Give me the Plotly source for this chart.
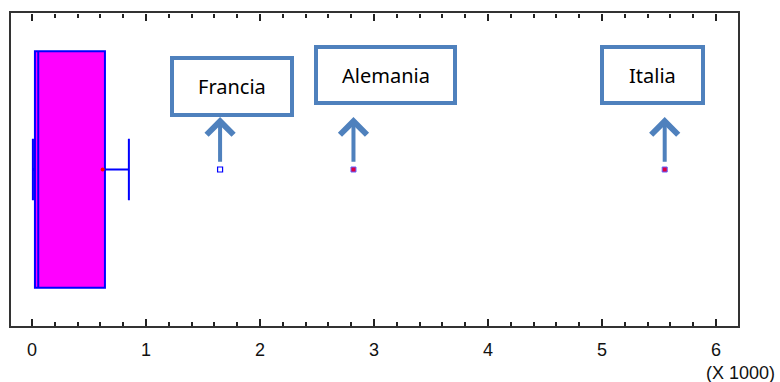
import plotly.graph_objects as go

# values in thousands (axis shows "X 1000")
q1 = [0.026]
median = [0.055]
q3 = [0.64]
lower_fence = [0.008]
upper_fence = [0.85]
mean_val = [0.62]

outlier_names = ["Francia", "Alemania", "Italia"]
outlier_values = [1.65, 2.82, 5.55]
outlier_far = [False, True, True]

tick_start = 0
tick_step = 1
minor_step = 0.2

fig = go.Figure()

fig.add_trace(go.Box(
    orientation="h",
    y=[0],
    q1=q1, median=median, q3=q3,
    lowerfence=lower_fence, upperfence=upper_fence,
    fillcolor="#FF00FF",
    line=dict(color="#0000FF", width=2),
    width=1.51,
    whiskerwidth=0.26,
    boxpoints=False,
    hoverinfo="skip",
    showlegend=False,
))

# mean marker
fig.add_trace(go.Scatter(
    x=mean_val, y=[0], mode="markers",
    marker=dict(color="#FF0000", size=4, symbol="circle"),
    showlegend=False, hoverinfo="skip",
))

# outliers
near_x = [v for v, f in zip(outlier_values, outlier_far) if not f]
far_x = [v for v, f in zip(outlier_values, outlier_far) if f]
fig.add_trace(go.Scatter(
    x=near_x, y=[0] * len(near_x), mode="markers",
    marker=dict(color="white", size=5, symbol="square",
                line=dict(color="#0000FF", width=1.2)),
    showlegend=False, hoverinfo="skip",
))
fig.add_trace(go.Scatter(
    x=far_x, y=[0] * len(far_x), mode="markers",
    marker=dict(color="#E00040", size=5, symbol="square",
                line=dict(color="#6060FF", width=1)),
    showlegend=False, hoverinfo="skip",
))

# transparent traces carrying the extra tick axes (top edge and bottom minor ticks)
for ax in ["x2", "x3"]:
    fig.add_trace(go.Scatter(
        x=outlier_values, y=[0] * len(outlier_values), xaxis=ax, yaxis="y",
        mode="markers", marker=dict(color="rgba(0,0,0,0)", size=1),
        showlegend=False, hoverinfo="skip",
    ))

# callout boxes (paper pixel positions) and arrows
box_color = "#4F81BD"
W, H = 780, 382
PL, PR, PT, PB = 11, 738, 13, 326
pw, ph = PR - PL, PB - PT
callouts = [
    # name, x0, x1, y0, y1 (pixels, top-left origin)
    ("Francia", 172, 292, 58, 115),
    ("Alemania", 316, 455, 47, 103),
    ("Italia", 602, 703, 47, 103),
]
shapes = []
annotations = []
for (name, x0, x1, y0, y1), xv in zip(callouts, outlier_values):
    shapes.append(dict(
        type="rect", xref="paper", yref="paper",
        x0=(x0 - PL) / pw, x1=(x1 - PL) / pw,
        y0=(PB - y1) / ph, y1=(PB - y0) / ph,
        line=dict(color=box_color, width=4), fillcolor="white", layer="above",
    ))
    annotations.append(dict(
        xref="paper", yref="paper",
        x=((x0 + x1) / 2 - PL) / pw, y=(PB - (y0 + y1) / 2) / ph,
        xanchor="center", yanchor="middle",
        text=name, showarrow=False,
        font=dict(family="Noto Sans", size=20, color="#000000"),
    ))
    # arrow pointing up from outlier to box
    annotations.append(dict(
        x=xv, y=0.335, xref="x", yref="y",
        ax=xv, ay=0.04, axref="x", ayref="y",
        text="", showarrow=True, arrowhead=4, arrowsize=1.3,
        arrowwidth=4, arrowcolor=box_color,
    ))

annotations.append(dict(
    xref="paper", yref="paper", x=(777 - PL) / pw, y=(PB - 373) / ph,
    xanchor="right", yanchor="middle", text="(X 1000)", showarrow=False,
    font=dict(family="Liberation Sans", size=18, color="#111111"),
))

x_range = [-0.184, 6.193]
tick_color = "#222222"
major_style = dict(tickmode="linear", tick0=tick_start, dtick=tick_step,
                   ticklen=7, tickwidth=2, tickcolor=tick_color)
minor_style = dict(tickmode="linear", tick0=tick_start, dtick=minor_step,
                   ticks="outside", ticklen=4, tickwidth=2,
                   tickcolor=tick_color, showgrid=False)

fig.update_layout(
    width=W, height=H,
    margin=dict(l=PL, r=W - PR, t=PT, b=H - PB),
    plot_bgcolor="white", paper_bgcolor="white",
    shapes=shapes, annotations=annotations,
    xaxis=dict(
        range=x_range,
        ticks="inside",
        showline=True, linecolor="#333333", linewidth=2, mirror=True,
        showgrid=False, zeroline=False,
        tickfont=dict(family="Liberation Sans", size=18, color="#111111"),
        ticklabelstandoff=6,
        **major_style,
    ),
    # top edge: axis placed at the top of the plot, ticks pointing down into it
    xaxis2=dict(
        range=x_range, matches="x", overlaying="x", anchor="free",
        position=1, side="bottom", ticks="outside",
        showticklabels=False, minor=minor_style,
        showline=False, showgrid=False, zeroline=False,
        **major_style,
    ),
    # bottom edge minor ticks: axis placed at the bottom, ticks pointing up
    xaxis3=dict(
        range=x_range, matches="x", overlaying="x", anchor="free",
        position=0, side="top", ticks="outside",
        showticklabels=False, minor=minor_style,
        showline=False, showgrid=False, zeroline=False,
        **major_style,
    ),
    yaxis=dict(
        range=[-1, 1], showticklabels=False, ticks="",
        showline=True, linecolor="#333333", linewidth=2, mirror=True,
        showgrid=False, zeroline=False,
    ),
)

fig.write_html("out.html", config={"displayModeBar": False})

# remove default page margin so the figure sits at the window origin
with open("out.html", "r", encoding="utf-8") as f:
    html = f.read()
html = html.replace("<head>", "<head><style>html,body{margin:0;padding:0;overflow:hidden}</style>", 1)
with open("out.html", "w", encoding="utf-8") as f:
    f.write(html)
